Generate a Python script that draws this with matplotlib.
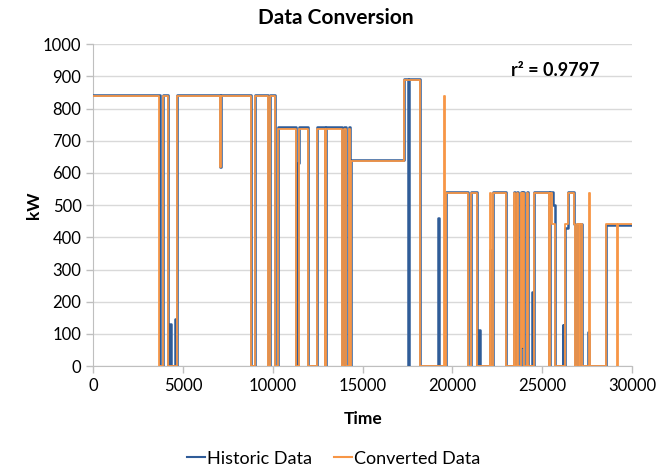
import matplotlib
matplotlib.use("Agg")
import matplotlib.pyplot as plt

# step series: time where the level starts, and the level in kW
historic_t = [0, 3700, 3880, 4180, 4260, 4300, 4560, 4590, 4680, 7050, 7090,
              8790, 8977, 9756, 9850, 10130, 10260, 11300, 11400, 11430, 11930,
              12450, 12880, 12970, 13845, 13880, 13930, 13975, 14085, 14235,
              14290, 14345, 17320, 17540, 17580, 18170, 19210, 19250, 19640,
              20880, 21010, 21380, 21500, 21530, 22110, 22170, 22250, 23000,
              23410, 23470, 23600, 23660, 23820, 23880, 23940, 24000, 24140,
              24200, 24430, 24470, 24565, 25365, 25455, 25600, 25735, 26140,
              26180, 26290, 26420, 26760, 26850, 26920, 27050, 27110, 27220,
              27550, 27590, 28540, 30000]
historic_kw = [843, 0, 843, 0, 132, 0, 145, 0, 843, 620, 843,
               0, 843, 0, 843, 0, 742, 0, 630, 742, 0,
               742, 0, 742, 0, 130, 0, 742, 0, 742,
               0, 640, 892, 0, 892, 0, 460, 0, 542,
               0, 542, 0, 111, 0, 360, 0, 542, 0,
               542, 0, 542, 0, 542, 60, 542, 0, 542,
               0, 230, 0, 542, 0, 542, 500, 0, 127,
               0, 430, 542, 443, 0, 443, 0, 443, 0,
               107, 0, 438, 438]

converted_t = [0, 3680, 3865, 4180, 4680, 7050, 7090, 8790, 8977, 9756, 9850,
               10130, 10260, 11300, 11430, 11930, 12450, 12880, 12970, 13845,
               13975, 14085, 14235, 14290, 14345, 17320, 18170, 19530, 19570,
               19640, 20880, 21010, 21380, 22110, 22170, 22250, 23000, 23410,
               23470, 23600, 23660, 23820, 23880, 23940, 24000, 24140, 24200,
               24565, 25365, 25455, 25560, 25735, 26290, 26420, 26760, 26850,
               26920, 27050, 27110, 27220, 27630, 27680, 28540, 29150, 29200,
               30000]
converted_kw = [838, 0, 838, 0, 838, 620, 838, 0, 838, 0, 838,
                0, 737, 0, 737, 0, 737, 0, 737, 0,
                737, 0, 737, 0, 636, 888, 0, 838, 0,
                537, 0, 537, 0, 537, 0, 537, 0, 537,
                0, 537, 0, 537, 60, 537, 0, 537, 0,
                537, 0, 537, 440, 0, 440, 537, 440, 0,
                440, 0, 440, 0, 537, 0, 440, 0, 440,
                440]

y_ticks = list(range(0, 1001, 100))
x_ticks = [0, 5000, 10000, 15000, 20000, 25000, 30000]

FONT = "Lato"
blue = "#2f5c98"
orange = "#f79646"
grid_grey = "#d9d9d9"

fig = plt.figure(figsize=(6.57, 4.70), dpi=100)
ax = fig.add_axes([0.142, 0.221, 0.820, 0.685])

ax.plot(historic_t, historic_kw, drawstyle="steps-post", color=blue,
        linewidth=1.8, label="Historic Data", zorder=3)
ax.plot(converted_t, converted_kw, drawstyle="steps-post", color=orange,
        linewidth=1.3, label="Converted Data", zorder=4)

ax.set_xlim(0, 30000)
ax.set_ylim(0, 1000)
ax.set_xticks(x_ticks)
ax.set_yticks(y_ticks)
ax.yaxis.grid(True, color=grid_grey, linewidth=1)
ax.set_axisbelow(True)
for side in ["top", "right"]:
    ax.spines[side].set_visible(False)
for side in ["left", "bottom"]:
    ax.spines[side].set_color("#bfbfbf")
ax.tick_params(axis="both", colors="#bfbfbf", length=5, width=1,
               labelcolor="black", labelsize=12)
for lbl in ax.get_xticklabels() + ax.get_yticklabels():
    lbl.set_fontfamily(FONT)

ax.set_xlabel("Time", fontsize=12.5, fontweight="bold", family=FONT,
              labelpad=12)
ax.set_ylabel("kW", fontsize=12.5, fontweight="bold", family=FONT,
              labelpad=1)
fig.text(0.511, 0.962, "Data Conversion", ha="center", va="center",
         fontsize=15, fontweight="bold", family=FONT)
ax.text(0.858, 0.918, "r² = 0.9797", transform=ax.transAxes, ha="center",
        va="center", fontsize=13, fontweight="bold", family=FONT)

leg = fig.legend(loc="center", bbox_to_anchor=(0.508, 0.024), ncol=2,
                 frameon=False, handlelength=1.0, handletextpad=0.1,
                 columnspacing=1.2, prop={"family": FONT, "size": 13})
for line in leg.get_lines():
    line.set_linewidth(1.5)

fig.savefig("out.png", dpi=100)
